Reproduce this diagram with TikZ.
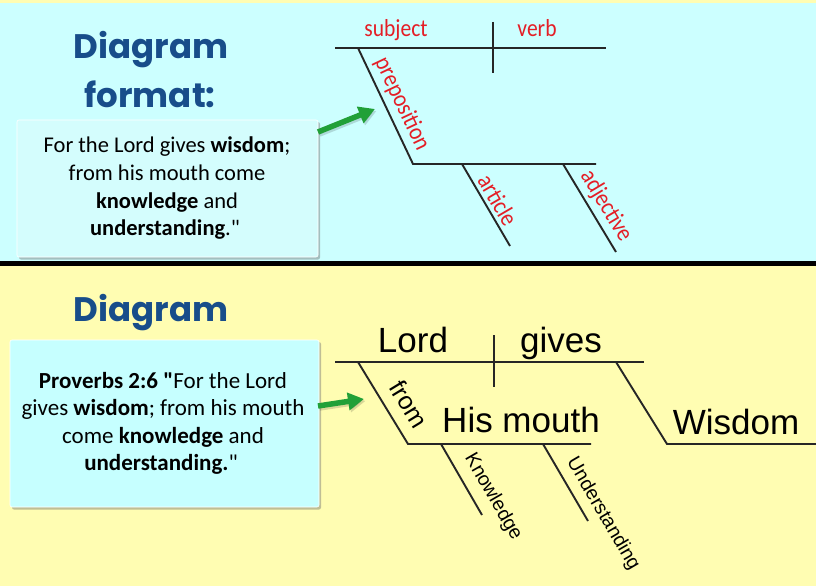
\documentclass[tikz,border=0pt]{standalone}
\usepackage{fontspec}
\setmainfont{Carlito}[Ligatures=TeXOff]
\newfontfamily\titlefont{Poppins}
\newfontfamily\arialfont{Liberation Sans}
\newfontfamily\redfont{Carlito}[FakeStretch=0.88]
\usetikzlibrary{arrows.meta}
\definecolor{cyanbg}{HTML}{CCFFFF}
\definecolor{yellowbg}{HTML}{FFFDB2}
\definecolor{boxtop}{HTML}{D4FDFD}
\definecolor{boxbot}{HTML}{C6FFFF}
\definecolor{titleblue}{HTML}{184D8A}
\definecolor{labred}{HTML}{E41E26}
\definecolor{arrowgreen}{HTML}{21A038}
\tikzset{
  titletext/.style={font=\titlefont\bfseries\fontsize{34}{40}\selectfont, text=titleblue, inner sep=0pt, anchor=base},
  boxline/.style={font=\fontsize{22.5}{27}\selectfont, inner sep=0pt, anchor=base},
  boxlineb/.style={font=\fontsize{23}{27}\selectfont, inner sep=0pt, anchor=base},
  textbox/.style={draw=white, line width=0.6pt, rounded corners=2pt, inner sep=0pt},
  boxshadow/.style={fill=black!55, opacity=0.45, rounded corners=2pt},
  greenarrow/.style={draw=arrowgreen, line width=5.5pt, -{Triangle[length=16pt,width=17pt]}},
  arrowshadow/.style={draw=black, opacity=0.15, line width=5.5pt, -{Triangle[length=16pt,width=17pt]}},
  dline/.style={draw=black!85, line width=1.9pt},
  redlab/.style={font=\redfont\fontsize{24.5}{28}\selectfont, text=labred, inner sep=0pt},
  bigword/.style={font=\arialfont\fontsize{35}{40}\selectfont, inner sep=0pt, anchor=base},
  smallword/.style={font=\arialfont\fontsize{19.5}{22}\selectfont, inner sep=0pt},
}
\begin{document}
\begin{tikzpicture}[x=1pt,y=-1pt]
\useasboundingbox (0,0) rectangle (816,586);
% backgrounds
\fill[yellowbg] (0,0) rectangle (816,586);
\fill[cyanbg] (0,3) rectangle (816,261);
\fill[black] (0,261) rectangle (816,265.5);

% titles
\node[titletext] (t1) at (151,59) {Diagram};
\node[titletext] (t2) at (150,107) {format:};
\node[titletext] (t3) at (151,321) {Diagram};

% top box
\fill[boxshadow] (19,122) rectangle (320,259.5);
\node[textbox, fill=boxtop, minimum width=301pt, minimum height=137pt] (box1) at (167.5,188.5) {};
\node[boxline] (b1l1) at (167,152.7) {For the Lord gives \textbf{wisdom};};
\node[boxline] (b1l2) at (167,180.7) {from his mouth come};
\node[boxline] (b1l3) at (167,208.3) {\textbf{knowledge} and};
\node[boxline] (b1l4) at (165,235) {\textbf{understanding}."};

% bottom box
\fill[boxshadow] (12,342) rectangle (321,509.5);
\node[textbox, fill=boxbot, minimum width=309pt, minimum height=167pt] (box2) at (164.5,423.5) {};
\node[boxlineb] (b2l1) at (163,388.3) {\textbf{Proverbs 2:6 "}For the Lord};
\node[boxlineb] (b2l2) at (163,415.7) {gives \textbf{wisdom}; from his mouth};
\node[boxlineb] (b2l3) at (163,443.3) {come \textbf{knowledge} and};
\node[boxlineb] (b2l4) at (161,470) {\textbf{understanding.}"};

% arrows
\coordinate (a1s) at (318,132);
\coordinate (a1e) at (375,109);
\coordinate (a2s) at (318,406);
\coordinate (a2e) at (364,399);
\draw[arrowshadow] ([shift={(1.5,2)}]a1s) -- ([shift={(1.5,2)}]a1e);
\draw[arrowshadow] ([shift={(1.5,2)}]a2s) -- ([shift={(1.5,2)}]a2e);
\draw[greenarrow] (a1s) -- (a1e);
\draw[greenarrow] (a2s) -- (a2e);

% ---------- top diagram ----------
\coordinate (m1l) at (335,48);
\coordinate (m1r) at (606,48);
\coordinate (d1t) at (493,22);
\coordinate (d1b) at (493,73);
\coordinate (p1) at (358,48);
\coordinate (p2) at (413,164);
\coordinate (l1r) at (596,164);
\coordinate (ar1) at (462,164);
\coordinate (ar2) at (510,246);
\coordinate (ad1) at (563,164);
\coordinate (ad2) at (616,252);
\draw[dline] (m1l) -- (m1r);
\draw[dline] (d1t) -- (d1b);
\draw[dline] (p1) -- (p2) -- (l1r);
\draw[dline] (ar1) -- (ar2);
\draw[dline] (ad1) -- (ad2);
\node[redlab, anchor=base] (subj) at (396,37) {subject};
\node[redlab, anchor=base] (verb) at (537,37) {verb};
\node[redlab, rotate=-64.6] (prep) at (402,104) {preposition};
\node[redlab, rotate=-59.7] (art) at (498,200) {article};
\node[redlab, rotate=-59] (adj) at (606,206) {adjective};

% ---------- bottom diagram ----------
\coordinate (m2l) at (335,362);
\coordinate (m2r) at (644,362);
\coordinate (d2t) at (494,335);
\coordinate (d2b) at (494,387);
\coordinate (f1) at (358,362);
\coordinate (f2) at (408,444);
\coordinate (l2r) at (591,444);
\coordinate (k1) at (441,444);
\coordinate (k2) at (482,515);
\coordinate (u1) at (543,444);
\coordinate (u2) at (588,521);
\coordinate (w1) at (616,362);
\coordinate (w2) at (667,444);
\coordinate (w3) at (816,444);
\draw[dline] (m2l) -- (m2r);
\draw[dline] (d2t) -- (d2b);
\draw[dline] (f1) -- (f2) -- (l2r);
\draw[dline] (k1) -- (k2);
\draw[dline] (u1) -- (u2);
\draw[dline] (w1) -- (w2) -- (w3);
\node[bigword] (lord) at (413,352) {Lord};
\node[bigword] (gives) at (561,352) {gives};
\node[bigword] (mouth) at (521,432) {His mouth};
\node[bigword] (wisdom) at (736,434) {Wisdom};
\node[font=\arialfont\fontsize{25}{28}\selectfont, inner sep=0pt, rotate=-58.6] (from) at (409,404) {from};
\node[smallword, rotate=-60] (know) at (493,497) {Knowledge};
\node[smallword, rotate=-59.7] (under) at (603,514) {Understanding};
\end{tikzpicture}
\end{document}
